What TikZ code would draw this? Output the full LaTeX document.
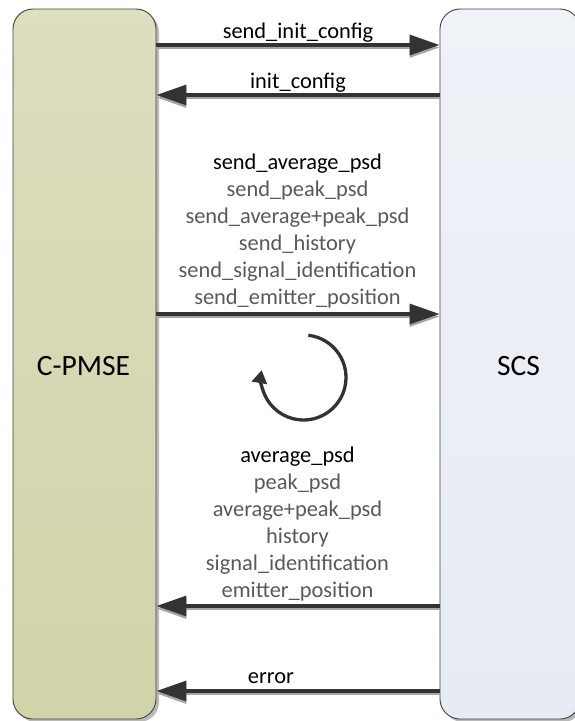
\documentclass[tikz,border=0pt]{standalone}
\usepackage{fontspec}
\setmainfont{Carlito}
\usetikzlibrary{arrows.meta,shadows}

\definecolor{oliveTop}{HTML}{DEDEC0}
\definecolor{oliveBot}{HTML}{D1D3A8}
\definecolor{blueTop}{HTML}{EFF2F7}
\definecolor{blueBot}{HTML}{E7EBF3}
\definecolor{boxline}{HTML}{404040}
\definecolor{msgdark}{HTML}{333333}
\definecolor{msgshade}{HTML}{A6A6A6}
\definecolor{softtext}{HTML}{595959}

\begin{document}
\begin{tikzpicture}[x=1pt,y=-1pt,
  box/.style={draw=boxline, line width=0.9pt, rounded corners=20pt,
    inner sep=0pt, minimum height=710pt,
    drop shadow={shadow xshift=3pt, shadow yshift=-3pt, fill=black!45, opacity=0.6}},
  boxlabel/.style={font=\fontsize{29.5}{35}\selectfont, anchor=base, inner sep=0pt},
  msglabel/.style={font=\fontsize{22.4}{27}\selectfont, anchor=base, inner sep=0pt, align=center},
  msg/.style={line width=3.4pt, draw=msgdark, -{Triangle[length=30pt,width=20pt]}},
  msgshadow/.style={msg, draw=msgshade, xshift=3pt, yshift=-2.5pt},
  cycle/.style={line width=3.3pt, draw=msgdark, -{Triangle[length=13pt,width=15pt]}}
]
\useasboundingbox (0,0) rectangle (574,721);

% the two communicating parties
\node[box, minimum width=143pt, top color=oliveTop, bottom color=oliveBot] (pm) at (84.5,364) {};
\node[box, minimum width=140pt, top color=blueTop, bottom color=blueBot] (scs) at (510,364) {};
\node[boxlabel] (pmname) at (83.5,375) {C-PMSE};
\node[boxlabel] (scsname) at (518.5,375) {SCS};

% message shadows
\draw[msgshadow] (pm.east |- 0,45)  -- (scs.west |- 0,45);
\draw[msgshadow] (scs.west |- 0,95) -- (pm.east |- 0,95);
\draw[msgshadow] (pm.east |- 0,314) -- (scs.west |- 0,314);
\draw[msgshadow] (scs.west |- 0,606) -- (pm.east |- 0,606);
\draw[msgshadow] (scs.west |- 0,691) -- (pm.east |- 0,691);

% messages
\draw[msg] (pm.east |- 0,45)  -- (scs.west |- 0,45);
\draw[msg] (scs.west |- 0,95) -- (pm.east |- 0,95);
\draw[msg] (pm.east |- 0,314) -- (scs.west |- 0,314);
\draw[msg] (scs.west |- 0,606) -- (pm.east |- 0,606);
\draw[msg] (scs.west |- 0,691) -- (pm.east |- 0,691);

% message labels (multi-line labels sit on the baseline of their last line)
\node[msglabel] (l1) at (298,38) {send\_init\_config};
\node[msglabel] (l2) at (298,88) {init\_config};
\node[msglabel] (l3) at (297.5,304) {send\_average\_psd\\
  \textcolor{softtext}{send\_peak\_psd}\\
  \textcolor{softtext}{send\_average+peak\_psd}\\
  \textcolor{softtext}{send\_history}\\
  \textcolor{softtext}{send\_signal\_identification}\\
  \textcolor{softtext}{send\_emitter\_position}};
\node[msglabel] (l4) at (297.5,597) {average\_psd\\
  \textcolor{softtext}{peak\_psd}\\
  \textcolor{softtext}{average+peak\_psd}\\
  \textcolor{softtext}{history}\\
  \textcolor{softtext}{signal\_identification}\\
  \textcolor{softtext}{emitter\_position}};
\node[msglabel] (l5) at (271,683) {error};

% repeating exchange
\draw[cycle] (303.5,377.5) ++(-83.5:42.5) arc[start angle=-83.5, end angle=190, radius=42.5];
\end{tikzpicture}
\end{document}
